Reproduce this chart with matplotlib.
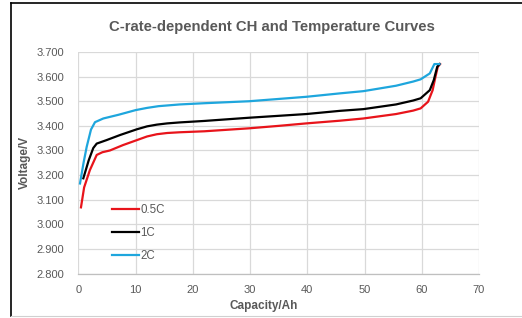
import matplotlib
matplotlib.use("Agg")
import matplotlib.pyplot as plt
from matplotlib.lines import Line2D

plt.rcParams['font.family'] = ['Liberation Sans', 'DejaVu Sans']

title = "C-rate-dependent CH and Temperature Curves"
xlabel = "Capacity/Ah"
ylabel = "Voltage/V"

# 0.5C
cap_05 = [0.45, 1.0, 2.0, 3.2, 4.2, 5.5, 7.8, 10.2, 12.0, 13.7, 15.5, 17.7, 22, 29.8, 35, 39.8, 45.7, 49.8, 55.5, 58.5, 59.8, 61.1, 61.9, 62.4, 62.8, 63.2]
volt_05 = [3.069, 3.15, 3.22, 3.282, 3.293, 3.300, 3.322, 3.342, 3.357, 3.366, 3.371, 3.374, 3.378, 3.390, 3.400, 3.410, 3.421, 3.430, 3.448, 3.462, 3.471, 3.498, 3.545, 3.600, 3.640, 3.651]
# 1C
cap_1 = [0.86, 1.8, 2.6, 3.2, 4.9, 7.3, 10.2, 12.0, 13.7, 15.5, 17.7, 22, 29.8, 39.8, 45.7, 49.8, 55.5, 58.5, 59.8, 61.4, 62.1, 62.7, 63.1]
volt_1 = [3.187, 3.26, 3.31, 3.328, 3.342, 3.363, 3.386, 3.398, 3.405, 3.410, 3.414, 3.420, 3.433, 3.448, 3.461, 3.468, 3.487, 3.503, 3.512, 3.545, 3.586, 3.640, 3.651]
# 2C
cap_2 = [0.28, 0.9, 1.45, 2.2, 2.9, 4.35, 7.0, 10.0, 12.0, 14.0, 17.7, 22, 29.8, 39.8, 45.7, 49.8, 55.5, 58.5, 59.8, 61.4, 62.2, 63.1]
volt_2 = [3.166, 3.25, 3.315, 3.385, 3.415, 3.430, 3.445, 3.464, 3.473, 3.480, 3.487, 3.492, 3.500, 3.518, 3.532, 3.541, 3.563, 3.580, 3.589, 3.613, 3.651, 3.651]

series_labels = ["0.5C", "1C", "2C"]
xticks = [0, 10, 20, 30, 40, 50, 60, 70]
yticks = [2.8, 2.9, 3.0, 3.1, 3.2, 3.3, 3.4, 3.5, 3.6, 3.7]

W, H = 522, 318
fig = plt.figure(figsize=(W/100, H/100), dpi=100)
ax = fig.add_axes([78.4/W, 1-273.6/H, (479-78.4)/W, (273.6-52)/H])

txt = '#595959'
grid = '#d9d9d9'
ax.plot(cap_05, volt_05, color='#e8141b', lw=1.6, label=series_labels[0], solid_joinstyle='round')
ax.plot(cap_1, volt_1, color='#000000', lw=1.6, label=series_labels[1], solid_joinstyle='round')
ax.plot(cap_2, volt_2, color='#1ea6dd', lw=1.6, label=series_labels[2], solid_joinstyle='round')

ax.set_xlim(0, 70)
ax.set_ylim(2.8, 3.7)
ax.set_xticks(xticks)
ax.set_yticks(yticks)
ax.set_yticklabels([f"{v:.3f}" for v in yticks])
ax.tick_params(axis='both', length=0, labelsize=8, labelcolor=txt)
ax.tick_params(axis='y', pad=10)
ax.tick_params(axis='x', pad=8)
ax.grid(True, color=grid, lw=0.9)
ax.set_axisbelow(True)
for s in ['top', 'right', 'left']:
    ax.spines[s].set_visible(False)
ax.spines['bottom'].set_color('#bfbfbf')
ax.spines['bottom'].set_linewidth(0.9)

ax.set_xlabel(xlabel, fontsize=8.5, fontweight='bold', color=txt)
ax.xaxis.set_label_coords((264-78.4)/(479-78.4), -(305.7-273.6)/(273.6-52), transform=ax.transAxes)
ax.xaxis.label.set_va('center')
ax.set_ylabel(ylabel, fontsize=8.5, fontweight='bold', color=txt)
ax.yaxis.set_label_coords(-(78.4-25)/(479-78.4), 0.5)
ax.yaxis.label.set_va('center')

leg = ax.legend(loc='upper left', bbox_to_anchor=((112-78.4)/400.6, 1-(204-52)/221.6),
                frameon=False, fontsize=8.3, labelcolor=txt, handlelength=2.3,
                handletextpad=0.15, labelspacing=0.95, borderaxespad=0, borderpad=0)

fig.text(272/W, 1-27/H, title, ha='center', va='center', fontsize=10.7,
         fontweight='bold', color=txt)

# outer frame
fig.add_artist(Line2D([11/W, 11/W], [1-316/H, 1-3/H], color='black', lw=1.2, transform=fig.transFigure))
fig.add_artist(Line2D([11/W, 1], [1-3/H, 1-3/H], color='black', lw=1.2, transform=fig.transFigure))
fig.add_artist(Line2D([11/W, 1], [1-316/H, 1-316/H], color='#d0d0d0', lw=0.8, transform=fig.transFigure))

fig.savefig("out.png", dpi=100)
